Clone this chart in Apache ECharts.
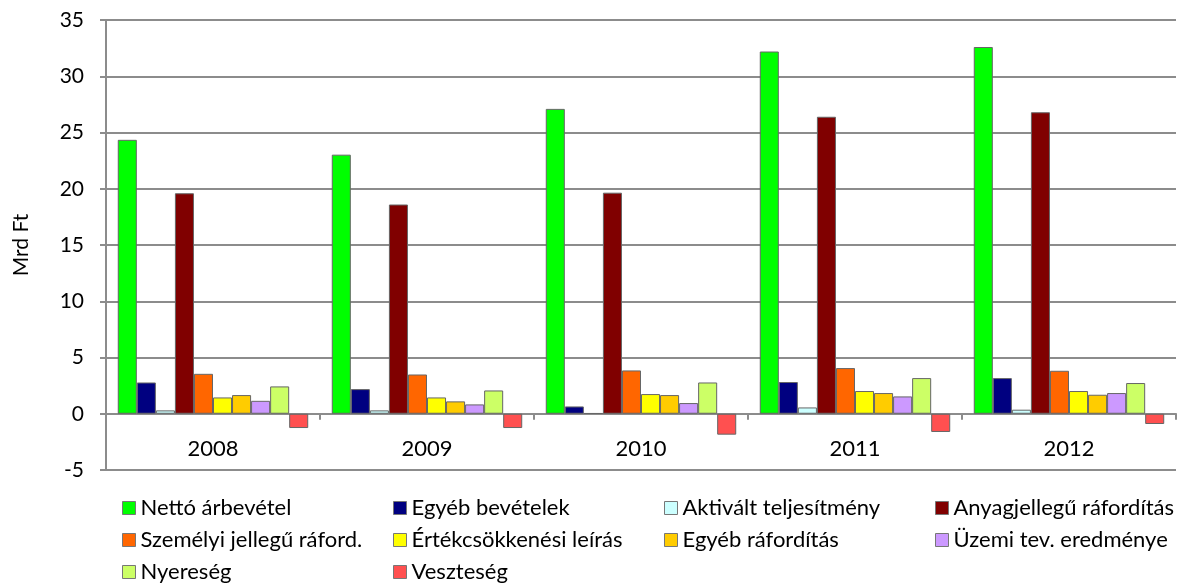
<!DOCTYPE html>
<html><head><meta charset="utf-8">
<script src="https://cdn.jsdelivr.net/npm/echarts@6/dist/echarts.min.js"></script>
<style>html,body{margin:0;padding:0;background:#fff}#c{width:1195px;height:584px}</style>
</head><body><div id="c"></div>
<script>
const years = ['2008','2009','2010','2011','2012'];
const seriesNames = ['Nettó árbevétel','Egyéb bevételek','Aktivált teljesítmény','Anyagjellegű ráfordítás','Személyi jellegű ráford.','Értékcsökkenési leírás','Egyéb ráfordítás','Üzemi tev. eredménye','Nyereség','Veszteség'];
const netto      = [24.35, 23.03, 27.1, 32.2, 32.6];
const egyebBev   = [2.78, 2.19, 0.65, 2.82, 3.17];
const aktivalt   = [0.3, 0.3, 0.05, 0.56, 0.36];
const anyag      = [19.6, 18.6, 19.65, 26.4, 26.8];
const szemelyi   = [3.55, 3.49, 3.85, 4.06, 3.82];
const ertekcs    = [1.45, 1.45, 1.75, 2.02, 2.02];
const egyebRaf   = [1.66, 1.1, 1.66, 1.84, 1.69];
const uzemi      = [1.15, 0.83, 0.95, 1.54, 1.84];
const nyereseg   = [2.43, 2.07, 2.78, 3.17, 2.73];
const veszteseg  = [-1.27, -1.27, -1.86, -1.62, -0.91];
const yTicks = [-5, 0, 5, 10, 15, 20, 25, 30, 35];

const values = [netto, egyebBev, aktivalt, anyag, szemelyi, ertekcs, egyebRaf, uzemi, nyereseg, veszteseg];
const colors = ['#00FF00','#000080','#CCFFFF','#800000','#FF6600','#FFFF00','#FFCC00','#CC99FF','#CCFF66','#FF5050'];
const font = 'Lato, "Open Sans", sans-serif';

const chart = echarts.init(document.getElementById('c'), null, {renderer:'canvas'});
const legendCols = [[0,4,8],[1,5,9],[2,6],[3,7]];
const legendX = [122, 393, 664, 935];
chart.setOption({
  animation:false,
  textStyle:{fontFamily:font},
  grid:{left:106, right:19, top:20, bottom:114, containLabel:false},
  legend: legendCols.map((col,i)=>({
    orient:'vertical', left:legendX[i], top:497, itemGap:10, padding:0,
    itemWidth:13, itemHeight:13, icon:'rect',
    textStyle:{fontSize:22, lineHeight:22, color:'#000', fontFamily:font},
    data: col.map(k=>({name:seriesNames[k], itemStyle:{borderColor:'#777', borderWidth:1}}))
  })),
  xAxis:{
    type:'category', data:years,
    axisLine:{onZero:true, lineStyle:{color:'#8c8c8c', width:2}},
    axisTick:{show:true, length:6, lineStyle:{color:'#8c8c8c', width:2}},
    axisLabel:{fontSize:22, color:'#000', margin:-32, fontFamily:font},
    splitLine:{show:false}
  },
  yAxis:{
    type:'value', min:yTicks[0], max:yTicks[yTicks.length-1], interval:5,
    name:'Mrd Ft', nameLocation:'middle', nameGap:74, nameRotate:90,
    nameTextStyle:{fontSize:21, color:'#000', fontFamily:font},
    axisLine:{show:true, lineStyle:{color:'#8c8c8c', width:2}},
    axisTick:{show:true, length:6, lineStyle:{color:'#8c8c8c', width:2}},
    axisLabel:{fontSize:21, color:'#000', margin:22, fontFamily:font},
    splitLine:{show:true, lineStyle:{color:'#8c8c8c', width:2}}
  },
  series: seriesNames.map((n,i)=>({
    name:n, type:'bar', data:values[i], barGap:'0%', barCategoryGap:'11%',
    itemStyle:{color:colors[i], borderColor:'#666', borderWidth:1}
  }))
});
</script></body></html>
